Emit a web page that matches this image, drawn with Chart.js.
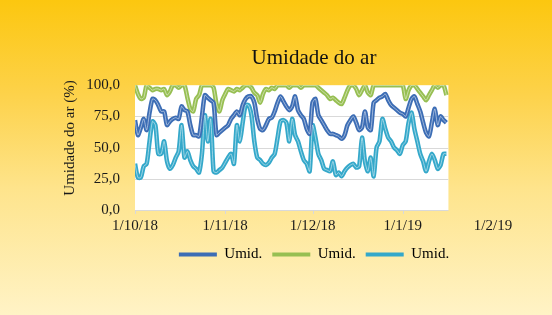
<!DOCTYPE html>
<html>
<head>
<meta charset="utf-8">
<script src="https://cdn.jsdelivr.net/npm/chart.js@4.4.0/dist/chart.umd.min.js"></script>
<style>
  html, body { margin: 0; padding: 0; }
  body {
    width: 552px; height: 315px; overflow: hidden;
    background: linear-gradient(#fcc70f 0%, #fdd24a 30%, #fee48c 60%, #fff3c6 100%);
  }
  #wrap { position: relative; width: 552px; height: 315px; }
</style>
</head>
<body>
<div id="wrap"><canvas id="chart" width="552" height="315"></canvas></div>
<script>
// Daily values, 1/10/18 .. 16/1/19
const umidMedia = [72, 60, 66, 73, 64, 78, 89, 88, 84, 79, 79, 68, 71, 73, 74, 73, 83, 80, 79, 68,
  60, 60, 59, 75, 92, 90, 88, 86, 60, 62, 64, 66, 68, 73, 76, 79, 76, 84, 89, 91,
  91, 86, 73, 65, 64, 68, 73, 74, 79, 86, 91, 87, 83, 80, 83, 91, 80, 76, 73, 65,
  61, 86, 89, 76, 72, 68, 64, 61, 61, 60, 59, 57, 60, 68, 72, 75, 70, 64, 66, 79,
  66, 64, 86, 88, 90, 91, 93, 88, 84, 82, 80, 78, 77, 75, 82, 89, 91, 85, 79, 70,
  62, 59, 70, 81, 68, 75, 72, 70];
const umidMax = [100, 93, 89, 90, 100, 98, 96, 97, 97, 96, 97, 92, 95, 100, 100, 98, 100, 100, 90, 81,
  79, 89, 92, 100, 100, 100, 100, 98, 85, 79, 88, 93, 97, 96, 95, 97, 96, 98, 100, 100,
  98, 94, 92, 86, 93, 97, 96, 98, 97, 100, 100, 100, 100, 98, 100, 100, 100, 98, 100, 100,
  100, 100, 100, 98, 96, 94, 92, 89, 90, 88, 86, 85, 90, 96, 100, 100, 97, 92, 96, 100,
  94, 92, 100, 100, 100, 100, 100, 100, 100, 100, 100, 100, 100, 89, 96, 100, 100, 97, 94, 91,
  88, 92, 96, 100, 98, 100, 100, 92];
const umidMin = [37, 26, 26, 35, 37, 55, 71, 68, 45, 45, 55, 39, 33, 36, 42, 47, 68, 42, 47, 40,
  35, 33, 30, 45, 76, 55, 73, 31, 30, 32, 34, 38, 42, 45, 37, 68, 55, 70, 84, 84,
  76, 55, 42, 40, 37, 36, 38, 42, 45, 58, 71, 72, 70, 55, 73, 60, 55, 47, 40, 37,
  31, 68, 58, 45, 40, 33, 32, 31, 39, 28, 30, 27, 31, 34, 36, 37, 34, 35, 58, 39,
  31, 42, 27, 50, 55, 73, 65, 58, 55, 50, 48, 45, 52, 55, 70, 78, 65, 55, 45, 39,
  31, 39, 45, 40, 33, 36, 45, 45];

const days = umidMedia.map((_, i) => i); // days since 1/10/18
const monthTicks = [0, 31, 61, 92, 123];
const monthLabels = ['1/10/18', '1/11/18', '1/12/18', '1/1/19', '1/2/19'];
const yTicks = [0, 25, 50, 75, 100];

const seriesNames = ['Umid.', 'Umid.', 'Umid.'];
const seriesColors = ['#3c6db5', '#97bf52', '#34a8ca'];
const seriesData = [umidMedia, umidMax, umidMin];

const serif = '"Liberation Serif", "Times New Roman", serif';

const datasets = [];
seriesData.forEach((vals, i) => {
  datasets.push({
    label: seriesNames[i],
    data: vals.map((v, j) => ({ x: days[j], y: v })),
    borderColor: seriesColors[i],
    backgroundColor: seriesColors[i],
    borderWidth: 4.5,
    pointRadius: 0,
    tension: 0.25,
    order: 2
  });
});
seriesData.forEach((vals, i) => {
  datasets.push({
    label: 'core',
    data: vals.map((v, j) => ({ x: days[j], y: v })),
    borderColor: 'rgba(255,255,255,0.5)',
    borderWidth: 1,
    pointRadius: 0,
    tension: 0.25,
    order: 1
  });
});

// white plot box up to the last day + grid lines
const plotBox = {
  id: 'plotBox',
  beforeDatasetsDraw(chart) {
    const { ctx, chartArea, scales: { x, y } } = chart;
    const right = x.getPixelForValue(days[days.length - 1]) + 2;
    ctx.save();
    ctx.fillStyle = '#ffffff';
    ctx.fillRect(chartArea.left, chartArea.top, right - chartArea.left, chartArea.bottom - chartArea.top);
    ctx.strokeStyle = '#d9d9d9';
    ctx.lineWidth = 1;
    yTicks.forEach(t => {
      if (t === 100) return;
      const py = Math.round(y.getPixelForValue(t)) + 0.5;
      ctx.beginPath();
      ctx.moveTo(chartArea.left, py);
      ctx.lineTo(right, py);
      ctx.stroke();
    });
    monthTicks.forEach(t => {
      const px = Math.round(x.getPixelForValue(t)) + 0.5;
      if (px > right) return;
      ctx.beginPath();
      ctx.moveTo(px, chartArea.bottom);
      ctx.lineTo(px, chartArea.bottom + 4);
      ctx.stroke();
    });
    // y title
    ctx.fillStyle = '#1a1a1a';
    ctx.font = '15px ' + serif;
    ctx.textAlign = 'center';
    ctx.textBaseline = 'middle';
    ctx.translate(70, 138);
    ctx.rotate(-Math.PI / 2);
    ctx.fillText('Umidade do ar (%)', 0, 0);
    ctx.restore();
  }
};

new Chart(document.getElementById('chart'), {
  type: 'line',
  data: { datasets },
  plugins: [plotBox],
  options: {
    responsive: false,
    animation: false,
    layout: { padding: { top: 40, right: 59, bottom: 43, left: 0 } },
    plugins: {
      title: {
        display: true,
        fullSize: false,
        text: 'Umidade do ar',
        color: '#111',
        font: { family: serif, size: 21, weight: 'normal' },
        padding: { top: 6, bottom: 14 }
      },
      legend: {
        position: 'bottom',
        fullSize: false,
        labels: {
          boxWidth: 38,
          boxHeight: 4,
          padding: 10,
          color: '#1a1a1a',
          font: { family: serif, size: 15 },
          generateLabels(chart) {
            return seriesNames.map((name, i) => ({
              text: name,
              fillStyle: seriesColors[i],
              strokeStyle: seriesColors[i],
              lineWidth: 0,
              datasetIndex: i
            }));
          }
        }
      },
      tooltip: { enabled: false }
    },
    scales: {
      x: {
        type: 'linear',
        min: monthTicks[0],
        max: monthTicks[monthTicks.length - 1],
        grid: { display: false, drawTicks: false },
        border: { display: false },
        afterBuildTicks(scale) { scale.ticks = monthTicks.map(v => ({ value: v })); },
        afterFit(scale) { scale.height = 27; },
        ticks: {
          padding: 7,
          maxRotation: 0,
          autoSkip: false,
          color: '#1a1a1a',
          font: { family: serif, size: 15 },
          callback: v => monthLabels[monthTicks.indexOf(v)]
        }
      },
      y: {
        min: 0,
        max: 100,
        grid: { display: false, drawTicks: false },
        border: { display: false },
        afterBuildTicks(scale) { scale.ticks = yTicks.map(v => ({ value: v })); },
        afterFit(scale) { scale.width = 135; },
        ticks: {
          padding: 15,
          color: '#1a1a1a',
          font: { family: serif, size: 15 },
          callback: v => v.toFixed(1).replace('.', ',')
        }
      }
    }
  }
});
</script>
</body>
</html>
